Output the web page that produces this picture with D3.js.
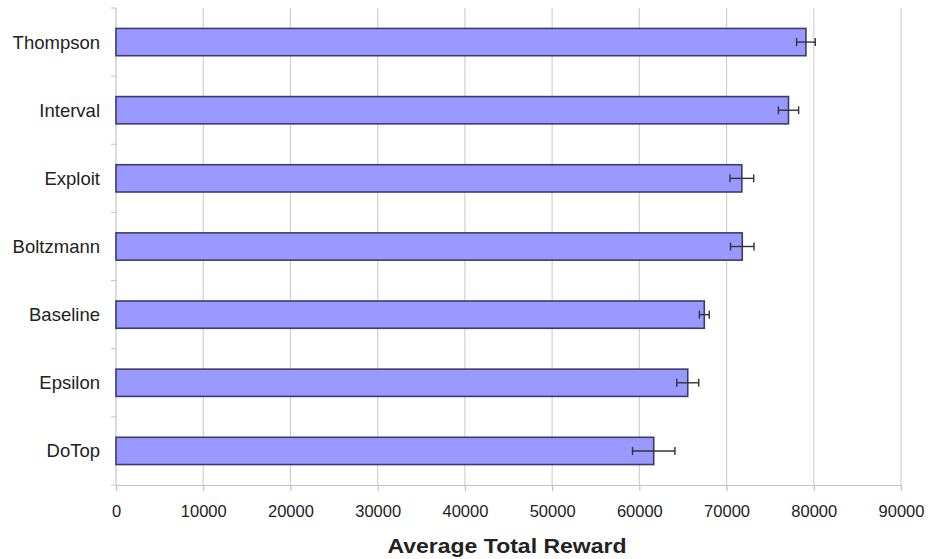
<!DOCTYPE html>
<html>
<head>
<meta charset="utf-8">
<script src="https://cdn.jsdelivr.net/npm/d3@7"></script>
<style>
  html, body { margin: 0; padding: 0; background: #fff; }
  svg { display: block; font-family: "Liberation Sans", Arial, sans-serif; }
</style>
</head>
<body>
<svg id="chart" width="932" height="559"></svg>
<script>
// Strategies, top to bottom
const categories = ["Thompson", "Interval", "Exploit", "Boltzmann", "Baseline", "Epsilon", "DoTop"];
// Mean total reward per strategy
const rewards = [79100, 77100, 71750, 71800, 67450, 65550, 61650];
// Half-width of the error bar per strategy
const errors = [1070, 1160, 1360, 1350, 570, 1260, 2430];
// Horizontal axis ticks
const xTicks = [0, 10000, 20000, 30000, 40000, 50000, 60000, 70000, 80000, 90000];

const svg = d3.select("#chart");
const margin = { top: 8, right: 31, bottom: 74, left: 116 };
const width = 932 - margin.left - margin.right;
const height = 559 - margin.top - margin.bottom;

const g = svg.append("g").attr("transform", `translate(${margin.left},${margin.top})`);

const x = d3.scaleLinear().domain([0, 90000]).range([0, width]);
const y = d3.scaleBand().domain(categories).range([0, height]).paddingInner(0.6).paddingOuter(0.3);

// Vertical gridlines
g.selectAll("line.grid")
  .data(xTicks.slice(1))
  .join("line")
  .attr("class", "grid")
  .attr("x1", d => x(d)).attr("x2", d => x(d))
  .attr("y1", 0).attr("y2", height)
  .attr("stroke", "#d0d0d0").attr("stroke-width", 1.2);

// Bottom axis
const xAxis = g.append("g")
  .attr("transform", `translate(0,${height})`)
  .call(d3.axisBottom(x).tickValues(xTicks).tickFormat(d3.format("d")).tickSize(6).tickPadding(14));
xAxis.select(".domain").attr("stroke", "#c4c4c4").attr("stroke-width", 1.2);
xAxis.selectAll(".tick line").attr("stroke", "#c4c4c4").attr("stroke-width", 1.2);
xAxis.selectAll(".tick text").attr("font-size", 16.5).attr("fill", "#222")
  .attr("font-family", "'Liberation Sans', Arial, sans-serif");

// Left axis: ticks sit between categories
const left = g.append("g");
left.append("line")
  .attr("x1", 0).attr("x2", 0).attr("y1", 0).attr("y2", height)
  .attr("stroke", "#c4c4c4").attr("stroke-width", 1.2);
const step = height / categories.length;
left.selectAll("line.ytick")
  .data(d3.range(categories.length + 1))
  .join("line")
  .attr("class", "ytick")
  .attr("x1", -5).attr("x2", 0)
  .attr("y1", i => i * step).attr("y2", i => i * step)
  .attr("stroke", "#c4c4c4");
left.selectAll("text.ylabel")
  .data(categories)
  .join("text")
  .attr("class", "ylabel")
  .attr("x", -16)
  .attr("y", d => y(d) + y.bandwidth() / 2)
  .attr("dy", "0.35em")
  .attr("text-anchor", "end")
  .attr("font-size", 18.5)
  .attr("fill", "#222")
  .text(d => d);

// Bars
g.selectAll("rect.bar")
  .data(categories)
  .join("rect")
  .attr("class", "bar")
  .attr("x", x(0))
  .attr("y", d => y(d))
  .attr("width", (d, i) => x(rewards[i]) - x(0))
  .attr("height", y.bandwidth())
  .attr("fill", "#9999ff")
  .attr("stroke", "#3c3c6c")
  .attr("stroke-width", 1.6);

// Error bars
const eb = g.selectAll("g.err")
  .data(categories)
  .join("g")
  .attr("class", "err")
  .attr("stroke", "#333")
  .attr("stroke-width", 1.4);
const cy = d => y(d) + y.bandwidth() / 2;
eb.append("line")
  .attr("x1", (d, i) => x(rewards[i] - errors[i]))
  .attr("x2", (d, i) => x(rewards[i] + errors[i]))
  .attr("y1", cy).attr("y2", cy);
eb.append("line")
  .attr("x1", (d, i) => x(rewards[i] - errors[i]))
  .attr("x2", (d, i) => x(rewards[i] - errors[i]))
  .attr("y1", d => cy(d) - 4).attr("y2", d => cy(d) + 4);
eb.append("line")
  .attr("x1", (d, i) => x(rewards[i] + errors[i]))
  .attr("x2", (d, i) => x(rewards[i] + errors[i]))
  .attr("y1", d => cy(d) - 4).attr("y2", d => cy(d) + 4);

// Axis title
svg.append("text")
  .attr("x", 507)
  .attr("y", 553)
  .attr("text-anchor", "middle")
  .attr("font-size", 21)
  .attr("font-weight", "bold")
  .attr("fill", "#222")
  .attr("textLength", 239)
  .attr("lengthAdjust", "spacingAndGlyphs")
  .text("Average Total Reward");
</script>
</body>
</html>
